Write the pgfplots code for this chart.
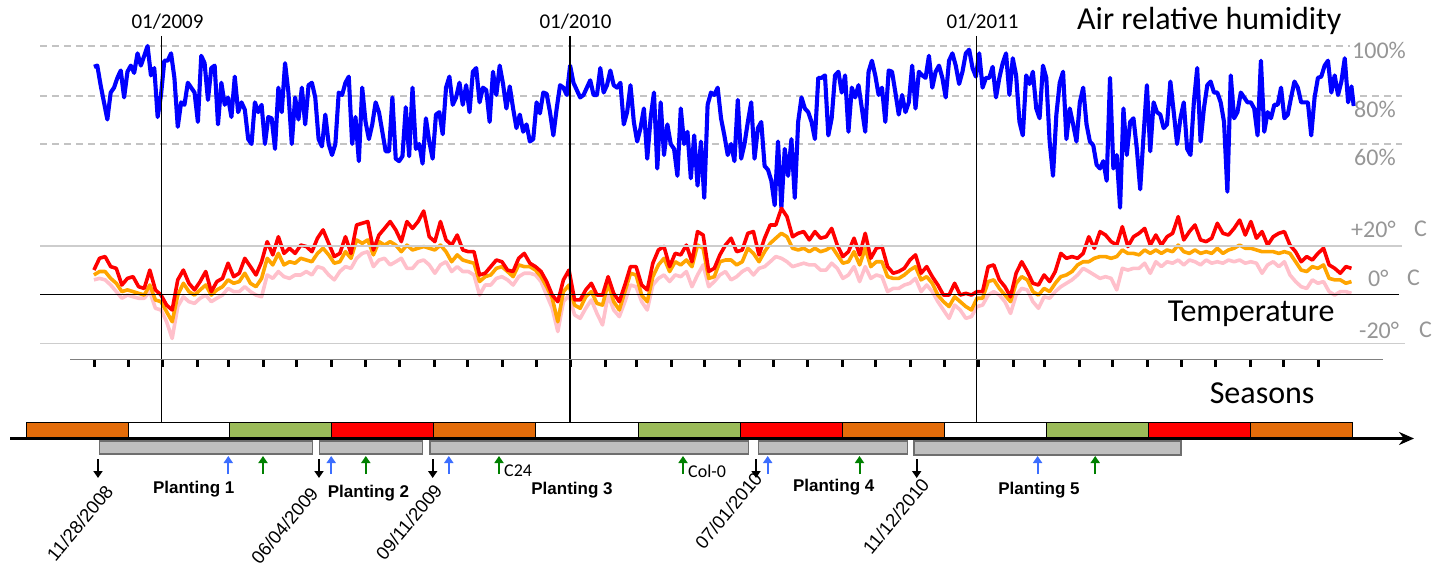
\documentclass[border=0pt]{standalone}
\usepackage{pgfplots}
\pgfplotsset{compat=1.18}
\usepackage{pgfplotstable}
\usepackage{fontspec}
\setmainfont{Carlito}
\newfontfamily\arial{Liberation Sans}
\usetikzlibrary{arrows.meta}
\newcommand\fs[1]{\fontsize{#1}{#1}\selectfont}

\definecolor{hum}{RGB}{0,0,255}
\definecolor{tmax}{RGB}{255,0,0}
\definecolor{tmean}{RGB}{255,165,0}
\definecolor{tmin}{RGB}{255,192,203}
\definecolor{sorange}{RGB}{227,108,10}
\definecolor{sgreen}{RGB}{155,187,89}
\definecolor{sred}{RGB}{255,0,0}
\definecolor{pgray}{RGB}{191,191,191}
\definecolor{pborder}{RGB}{110,110,110}
\definecolor{lblgray}{RGB}{150,150,150}
\definecolor{dashgray}{RGB}{195,195,195}
\definecolor{gridgray}{RGB}{205,205,205}
\definecolor{arrblue}{RGB}{60,110,255}
\definecolor{arrgreen}{RGB}{0,128,0}

% day = days since 01/01/2009, rh = air relative humidity (%)
\pgfplotstableread[row sep=\\]{
day rh\\
-60 91.5\\-57 92\\-54 84\\-51 77\\-48 70\\-45 81\\-42 83\\-39 87\\-36 90\\-33 79\\
-30 89.5\\-27 92\\-24 89\\-21 97\\-18 92\\-15 96\\-12 100\\-9 88\\-6 91\\-3 71\\
0 80\\3 94\\6 94\\9 97\\12 87\\15 67\\18 77\\21 76\\24 85\\27 83\\
30 81\\33 69\\36 96\\39 93\\42 78\\45 91\\48 92\\51 68\\54 85\\57 76\\
60 79\\63 71\\66 87.5\\69 73\\72 77\\75 74\\78 62\\81 60\\84 77\\87 73\\
90 76\\93 60\\96 71\\99 70.5\\102 58\\105 83\\108 73\\111 93\\114 81\\117 60\\
120 79\\123 70\\126 83\\129 68\\132 84\\135 85\\138 79\\141 62\\144 59\\147 72\\
150 60\\153 55.5\\156 60\\159 81\\162 80\\165 85\\168 87.5\\171 60\\174 71\\177 53\\
180 83\\183 69\\186 62\\189 68\\192 77\\195 73\\198 65\\201 57\\204 57\\207 79\\
210 54\\213 53\\216 55\\219 75\\222 55\\225 83\\
228 58\\231 60\\234 52\\237 70.5\\240 61\\243 54\\246 72\\249 73\\252 64\\255 83\\
258 87.5\\261 76\\264 79\\267 85\\270 76\\273 84\\276 73\\279 89.5\\282 91\\285 77\\
288 83\\291 82\\294 69\\297 89.5\\300 80\\303 92\\306 84.5\\309 74.5\\312 83.5\\315 74.5\\
318 66.5\\321 72\\324 65\\327 68\\330 61\\333 62\\336 77\\339 72.5\\342 81\\345 80.5\\
348 73\\351 63.5\\354 74.5\\357 84\\360 83\\363 80\\366 92\\369 85\\372 82\\375 79\\
378 80\\381 83\\384 86\\387 80\\390 80\\393 91\\396 81\\399 84\\402 90\\405 84\\
408 83\\411 85\\414 68\\417 73\\420 84\\423 69\\426 61\\429 66.5\\432 74.5\\435 54\\
438 70.5\\441 81\\444 50\\447 77\\450 55.5\\453 68\\456 60\\459 58\\462 47\\465 74.5\\
468 60\\471 65\\474 46\\477 63.5\\480 43\\483 61\\486 38\\489 76\\492 81\\495 80\\
498 83\\501 70.5\\504 63.5\\507 55.5\\510 60\\
513 53\\516 78\\519 54\\522 60\\525 69\\528 77\\531 54\\534 66.5\\537 69\\540 51\\
543 49.5\\546 45\\549 35\\552 61\\555 34\\558 58\\561 47\\564 62\\567 38\\570 69\\
573 79\\576 74.5\\579 73\\582 69\\585 62\\588 87\\591 87\\594 88\\597 63.5\\600 70.5\\
603 88\\606 89.5\\609 81\\612 88\\615 65\\618 83\\621 79\\624 84\\627 74.5\\630 65\\
633 89.5\\636 94\\639 88\\642 80\\645 83\\648 69\\651 90\\654 89.5\\657 81\\660 72\\
663 80\\666 73\\669 77\\672 92\\675 74.5\\678 89.5\\681 88\\684 87\\687 96\\690 83\\
693 89.5\\696 92\\699 87\\702 79\\705 94\\708 97\\711 92\\714 84.5\\717 89.5\\720 97\\
723 98.5\\726 91\\729 87.5\\732 97\\735 83\\738 87\\741 87\\744 91.5\\747 79\\750 87\\
753 93\\756 97\\759 80\\762 95\\765 88\\768 69\\771 63.5\\774 88\\777 84.5\\780 89.5\\
783 74.5\\786 70.5\\789 92\\792 87\\795 61\\
798 47\\801 72\\804 85\\807 89.5\\810 62\\813 74.5\\816 68\\819 61\\822 77\\825 83\\
828 68\\831 61\\834 59.5\\837 51.5\\840 50\\843 53\\846 45\\849 87\\852 50\\855 55.5\\
858 34\\861 74.5\\864 55.5\\867 69\\870 70.5\\873 58\\876 41.5\\879 63.5\\882 84\\885 57\\
888 77\\891 73\\894 72\\897 66.5\\900 68\\903 85.5\\906 73\\909 60\\912 70.5\\915 77\\
918 58\\921 55.5\\924 77\\927 91\\930 61\\933 74.5\\936 84\\939 85.5\\942 81\\945 81\\
948 77\\951 69\\954 40.5\\957 88\\960 70.5\\963 73\\966 81\\969 79\\972 77\\975 77\\
978 74.5\\981 63.5\\984 94\\987 65\\990 73\\993 70.5\\996 76\\999 76\\1002 83\\1005 70.5\\
1008 72\\1011 79\\1014 85.5\\1017 83\\1020 77\\1023 77\\1026 77\\1029 63.5\\1032 79\\1035 87\\
1038 87.5\\1041 92\\1044 94\\1047 81\\1050 88\\1053 80\\1056 85.5\\1059 95\\1062 77\\1065 83.5\\
1067 75.5\\
}\humidity

% daily max, mean and min air temperature (degrees C)
\pgfplotstableread[row sep=\\]{
day tmax tmean tmin\\
-60 9.9 7.9 5.9\\-55 14.7 9.3 6.5\\-50 15.4 9.3 5.9\\-45 11.3 6.5 3.8\\-40 10.6 4.5 1.1\\
-35 3.8 1.1 -1.6\\-30 6.5 1.8 -0.3\\-25 7.2 1.1 -1.0\\-20 3.1 0.4 -1.6\\-15 2.4 -0.3 -1.6\\
-10 9.9 3.8 1.1\\-5 1.8 -2.3 -5.7\\0 -0.3 -3.0 -6.4\\5 -4.4 -7.1 -11.2\\10 -6.4 -11.2 -18.0\\
15 5.9 -0.3 -5.0\\20 9.9 4.5 -1.0\\25 4.5 1.1 -3.0\\30 1.8 -0.3 -3.7\\35 5.2 1.8 -1.6\\
40 9.3 3.8 -0.3\\45 1.1 -0.3 -3.0\\50 5.2 1.8 -1.6\\55 6.5 3.1 -0.3\\60 12.7 5.9 2.4\\
65 7.2 4.5 1.1\\70 8.6 5.2 1.1\\75 14.7 8.6 3.1\\80 11.3 4.5 1.1\\85 7.9 3.1 -0.3\\
90 13.3 6.5 -1.0\\95 21.5 14.7 7.9\\100 16.1 12.0 6.5\\105 23.5 16.7 9.3\\110 16.7 12.0 7.2\\
115 18.8 13.3 6.5\\120 16.7 12.7 7.9\\125 20.1 14.7 7.9\\130 19.5 14.0 9.3\\135 17.4 13.3 7.9\\
140 22.9 16.7 11.3\\145 26.3 18.8 10.6\\150 20.8 16.1 7.9\\155 15.4 12.7 5.9\\160 16.7 13.3 9.3\\
165 23.5 17.4 11.3\\170 16.7 14.7 10.6\\175 28.3 22.2 14.7\\180 29.0 20.8 16.7\\185 29.7 22.2 17.4\\
190 18.1 16.1 11.3\\195 24.2 21.5 14.0\\200 26.9 20.1 14.7\\205 29.7 21.5 12.0\\210 26.3 20.1 13.3\\
215 21.5 17.4 14.7\\220 29.7 20.1 10.6\\
225 26.9 18.1 10.6\\230 29.7 18.8 13.3\\235 34.0 19.5 14.0\\240 23.5 18.8 12.0\\245 21.5 18.1 8.6\\
250 29.7 20.1 12.0\\255 22.2 17.4 13.3\\260 20.1 13.3 9.3\\265 24.2 16.1 11.3\\270 18.1 14.0 9.3\\
275 17.4 13.3 9.3\\280 17.4 12.7 7.9\\285 7.9 5.2 -0.3\\290 8.6 7.2 3.8\\295 11.3 7.9 3.8\\
300 14.0 10.6 6.5\\305 13.3 11.3 7.2\\310 9.9 9.3 5.9\\315 9.3 7.2 3.8\\320 14.7 12.0 7.2\\
325 16.7 11.3 8.6\\330 12.7 11.3 8.6\\335 11.3 9.9 7.9\\340 9.3 7.2 5.2\\345 5.2 3.1 -0.3\\
350 -0.3 -1.6 -5.7\\355 -3.0 -11.2 -15.2\\360 5.9 1.1 -3.0\\365 9.9 3.8 -0.3\\370 -2.3 -4.4 -8.4\\
375 -2.3 -5.7 -9.8\\380 1.8 -1.0 -5.7\\385 4.5 1.1 -2.3\\390 -0.3 -3.7 -7.8\\395 -0.3 -4.4 -12.5\\
400 7.2 4.5 -0.3\\405 0.4 -3.0 -6.4\\410 -3.0 -6.4 -9.1\\415 3.8 1.1 -3.0\\420 11.3 8.6 3.8\\
425 11.3 7.9 3.1\\430 3.8 -0.3 -3.0\\435 1.8 -3.0 -6.4\\440 12.7 7.2 3.8\\445 18.1 12.0 6.5\\
450 19.5 14.7 7.9\\455 11.3 9.3 5.2\\460 16.7 13.3 7.9\\465 16.1 12.0 7.2\\470 20.1 14.0 9.3\\
475 13.3 11.3 3.1\\480 25.6 20.1 7.9\\485 24.2 18.8 12.0\\490 9.3 6.5 3.1\\495 10.6 7.2 5.2\\
500 16.1 13.3 7.9\\505 20.1 14.0 9.3\\
510 22.9 14.0 5.9\\515 17.4 12.0 7.2\\520 18.1 13.3 9.3\\525 24.9 18.8 10.6\\530 25.6 16.7 7.9\\
535 16.1 13.3 10.6\\540 22.9 17.4 11.3\\545 28.3 20.8 13.3\\550 28.3 22.9 15.4\\555 35.1 24.9 14.7\\
560 31.7 23.5 13.3\\565 23.5 18.8 11.3\\570 24.9 18.1 12.0\\575 25.6 18.8 12.7\\580 22.2 17.4 12.0\\
585 25.6 18.8 12.0\\590 22.9 17.4 9.9\\595 23.5 18.1 9.9\\600 26.9 19.5 12.7\\605 20.1 16.1 10.6\\
610 15.4 12.7 6.5\\615 17.4 13.3 7.9\\620 22.9 17.4 11.3\\625 16.1 12.0 5.2\\630 24.9 18.8 11.3\\
635 14.7 11.3 6.5\\640 18.8 13.3 7.9\\645 19.5 13.3 7.2\\650 11.3 7.2 1.1\\655 8.6 6.5 2.4\\
660 9.3 6.5 2.4\\665 10.6 7.9 3.8\\670 14.0 9.9 4.5\\675 16.1 11.3 6.5\\680 8.6 5.9 1.1\\
685 11.3 7.2 3.8\\690 7.2 4.5 1.1\\695 3.8 -0.3 -3.0\\700 -0.3 -3.0 -6.4\\705 -0.3 -5.0 -9.8\\
710 4.5 -1.0 -4.4\\715 -0.3 -3.0 -6.4\\720 0.4 -5.0 -9.8\\725 -0.3 -6.4 -9.1\\730 1.1 -1.6 -5.0\\
735 1.1 -1.6 -4.4\\740 11.3 5.2 -0.3\\745 12.0 5.9 1.1\\750 5.9 2.4 -0.3\\755 3.1 -0.3 -3.0\\
760 -1.0 -3.0 -7.8\\765 8.6 4.5 -0.3\\770 13.3 7.2 2.4\\775 9.3 5.9 1.8\\780 4.5 1.1 -3.0\\
785 3.8 -0.3 -5.7\\790 7.9 2.4 -1.0\\795 5.2 1.1 -1.6\\
800 9.3 4.5 1.1\\805 16.7 7.2 3.1\\810 14.7 7.9 4.5\\815 15.4 9.3 5.9\\820 14.7 12.0 7.9\\
825 16.7 13.3 10.6\\830 23.5 13.3 9.3\\835 18.8 14.7 7.9\\840 25.6 15.4 6.5\\845 24.2 15.4 7.2\\
850 21.5 14.7 6.5\\855 20.1 15.4 1.8\\860 27.6 18.1 10.6\\865 19.5 16.7 9.9\\870 23.5 16.7 10.6\\
875 24.9 16.1 10.6\\880 26.9 18.1 12.7\\885 20.1 16.7 8.6\\890 24.2 18.1 13.3\\895 20.1 16.7 11.3\\
900 23.5 18.1 13.3\\905 24.9 17.4 12.7\\910 31.7 20.1 14.0\\915 22.2 17.4 12.0\\920 25.6 16.7 14.0\\
925 28.3 18.1 13.3\\930 22.2 16.7 12.0\\935 21.5 17.4 14.0\\940 22.9 16.7 12.7\\945 29.0 18.8 13.3\\
950 24.9 16.7 12.7\\955 24.2 18.1 14.0\\960 26.9 18.8 13.3\\965 30.3 20.1 14.0\\970 24.2 18.8 12.7\\
975 29.7 18.8 13.3\\980 22.9 18.1 12.7\\985 25.6 17.4 8.6\\990 20.1 17.4 12.0\\995 23.5 17.4 13.3\\
1000 24.9 16.7 11.3\\1005 25.6 17.4 13.3\\1010 20.1 16.7 7.9\\1015 17.4 13.3 5.2\\1020 13.3 9.9 3.1\\
1025 15.4 9.3 2.4\\1030 14.0 11.3 5.9\\1035 16.7 10.6 4.5\\1040 18.8 12.0 5.2\\1045 12.0 6.5 1.1\\
1050 10.6 5.9 -0.3\\1055 8.6 5.9 1.1\\1060 11.3 4.5 1.1\\1065 10.6 5.2 0.4\\
}\temps

\pgfplotsset{
  base/.style={scale only axis, width=1446pt, height=569pt, hide axis, clip=false,
    at={(0pt,0pt)}, anchor=south west},
  pix/.style={base, xmin=0, xmax=1446, ymin=0, ymax=569, y dir=reverse},
  days/.style={base, xmin=-144.03, xmax=1149.57},
}

\begin{document}
\begin{tikzpicture}
% ---------- background: humidity grid ----------
\begin{axis}[pix]
\draw[dashgray, line width=1.3pt, dash pattern=on 7pt off 5pt] (axis cs:40,46) -- (axis cs:1350,46);
\draw[dashgray, line width=1.3pt, dash pattern=on 7pt off 5pt] (axis cs:40,96) -- (axis cs:1402,96);
\draw[dashgray, line width=1.3pt, dash pattern=on 7pt off 5pt] (axis cs:40,144) -- (axis cs:1402,144);
\end{axis}
% ---------- humidity ----------
\begin{axis}[days, ymin=-113.47, ymax=118.78]
\addplot[hum, line width=4.1pt, line join=round, mark=none] table[x=day, y=rh]{\humidity};
\end{axis}
% ---------- temperatures ----------
\begin{axis}[days, ymin=-112.11, ymax=120.13]
\addplot[tmin, line width=3.6pt, line join=round, mark=none] table[x=day, y=tmin]{\temps};
\addplot[tmean, line width=3.6pt, line join=round, mark=none] table[x=day, y=tmean]{\temps};
\addplot[tmax, line width=3.6pt, line join=round, mark=none] table[x=day, y=tmax]{\temps};
\end{axis}
% ---------- foreground ----------
\begin{axis}[pix]
% temperature grid
\draw[gridgray, line width=1.8pt] (axis cs:40,246) -- (axis cs:1402,246);
\draw[black, line width=1.3pt] (axis cs:40,294.3) -- (axis cs:1399,294.3);
\draw[gridgray, line width=1.8pt] (axis cs:40,343.5) -- (axis cs:1405,343.5);
% year lines
\pgfplotsinvokeforeach{161.7,570,976.7}{\draw[black, line width=1.4pt] (axis cs:#1,36) -- (axis cs:#1,422);}
\node[font=\fs{21}] at (axis cs:167.5,22) {01/2009};
\node[font=\fs{21}] at (axis cs:575.5,22) {01/2010};
\node[font=\fs{21}] at (axis cs:982.5,22) {01/2011};
% titles
\node[anchor=base east, font=\fs{32}] at (axis cs:1345,30) {Air relative humidity};
\node[anchor=base east, font=\fs{32}] at (axis cs:1338,322) {Temperature};
\node[anchor=base east, font=\fs{32}] at (axis cs:1318,403) {Seasons};
% right labels
\node[anchor=west, inner sep=0pt, text=lblgray, font=\fs{24}] at (axis cs:1352,50) {100\%};
\node[anchor=west, inner sep=0pt, text=lblgray, font=\fs{24}] at (axis cs:1354,109) {80\%};
\node[anchor=west, inner sep=0pt, text=lblgray, font=\fs{24}] at (axis cs:1354,157) {60\%};
\node[anchor=west, inner sep=0pt, text=lblgray, font=\fs{24}] at (axis cs:1351,229) {+20°};
\node[anchor=west, inner sep=0pt, text=lblgray, font=\fs{24}] at (axis cs:1414,229) {C};
\node[anchor=west, inner sep=0pt, text=lblgray, font=\fs{24}] at (axis cs:1368,278) {0°};
\node[anchor=west, inner sep=0pt, text=lblgray, font=\fs{24}] at (axis cs:1407,278) {C};
\node[anchor=west, inner sep=0pt, text=lblgray, font=\fs{24}] at (axis cs:1359,330) {-20°};
\node[anchor=west, inner sep=0pt, text=lblgray, font=\fs{24}] at (axis cs:1419,330) {C};
% month ticks
\draw[gray, line width=1pt] (axis cs:70,359.5) -- (axis cs:1383,359.5);
\pgfplotsinvokeforeach{94.5,128,162.7,197.4,228.7,263.3,296.8,331.5,365,399.7,434.3,467.9,502.5,536,570.7,605.3,636.7,671.3,704.8,739.5,773,807.7,842.3,875.9,910.5,944,978.7,1013.3,1044.7,1079.3,1112.8,1147.5,1181,1215.7,1250.3,1283.9,1318.5}{\draw[black, line width=3pt] (axis cs:#1,360) -- (axis cs:#1,367);}
% seasons
\filldraw[fill=sorange, draw=black, line width=1pt] (axis cs:26,422) rectangle (axis cs:128,437);
\filldraw[fill=white,   draw=black, line width=1pt] (axis cs:128,422) rectangle (axis cs:229,437);
\filldraw[fill=sgreen,  draw=black, line width=1pt] (axis cs:229,422) rectangle (axis cs:331,437);
\filldraw[fill=sred,    draw=black, line width=1pt] (axis cs:331,422) rectangle (axis cs:433,437);
\filldraw[fill=sorange, draw=black, line width=1pt] (axis cs:433,422) rectangle (axis cs:535,437);
\filldraw[fill=white,   draw=black, line width=1pt] (axis cs:535,422) rectangle (axis cs:638,437);
\filldraw[fill=sgreen,  draw=black, line width=1pt] (axis cs:638,422) rectangle (axis cs:740,437);
\filldraw[fill=sred,    draw=black, line width=1pt] (axis cs:740,422) rectangle (axis cs:842,437);
\filldraw[fill=sorange, draw=black, line width=1pt] (axis cs:842,422) rectangle (axis cs:944,437);
\filldraw[fill=white,   draw=black, line width=1pt] (axis cs:944,422) rectangle (axis cs:1046,437);
\filldraw[fill=sgreen,  draw=black, line width=1pt] (axis cs:1046,422) rectangle (axis cs:1148,437);
\filldraw[fill=sred,    draw=black, line width=1pt] (axis cs:1148,422) rectangle (axis cs:1250,437);
\filldraw[fill=sorange, draw=black, line width=1pt] (axis cs:1250,422) rectangle (axis cs:1352,437);
% time arrow
\draw[black, line width=3pt, -{Stealth[length=15pt, width=13pt]}] (axis cs:10,438.5) -- (axis cs:1414,438.5);
% plantings
\filldraw[fill=pgray, draw=pborder, line width=1.2pt] (axis cs:99.5,441) rectangle (axis cs:312.7,454);
\filldraw[fill=pgray, draw=pborder, line width=1.2pt] (axis cs:319.6,441) rectangle (axis cs:422.5,454);
\filldraw[fill=pgray, draw=pborder, line width=1.2pt] (axis cs:430,441) rectangle (axis cs:748.4,454);
\filldraw[fill=pgray, draw=pborder, line width=1.2pt] (axis cs:758.5,441) rectangle (axis cs:907.5,454);
\filldraw[fill=pgray, draw=pborder, line width=1.2pt] (axis cs:914,441) rectangle (axis cs:1181,455);
% arrows
\pgfplotsinvokeforeach{98,319,432.7,756,916.7}{\draw[black, line width=1.8pt, -{Triangle[length=7pt, width=9pt]}] (axis cs:#1,459) -- (axis cs:#1,478);}
\pgfplotsinvokeforeach{228.3,331.2,448.8,767.7,1037.6}{\draw[arrblue, line width=2pt, -{Triangle[length=7pt, width=9pt]}] (axis cs:#1,474) -- (axis cs:#1,456);}
\pgfplotsinvokeforeach{263,365.8,499,683,859.5,1095.2}{\draw[arrgreen, line width=2pt, -{Triangle[length=7pt, width=9pt]}] (axis cs:#1,474) -- (axis cs:#1,456);}
\node[anchor=west, inner sep=1pt, font=\fs{18}] at (axis cs:503,471) {C24};
\node[anchor=west, inner sep=1pt, font=\fs{18}] at (axis cs:687,471) {Col-0};
% planting names
\node[font=\arial\bfseries\fs{17}] at (axis cs:193.7,489) {Planting 1};
\node[font=\arial\bfseries\fs{17}] at (axis cs:368.5,493) {Planting 2};
\node[font=\arial\bfseries\fs{17}] at (axis cs:572,490) {Planting 3};
\node[font=\arial\bfseries\fs{17}] at (axis cs:833.7,487) {Planting 4};
\node[font=\arial\bfseries\fs{17}] at (axis cs:1039,490) {Planting 5};
% dates
\node[rotate=50, anchor=east, inner sep=1pt, font=\arial\fs{18.5}] at (axis cs:110,487) {11/28/2008};
\node[rotate=50, anchor=east, inner sep=1pt, font=\arial\fs{18.5}] at (axis cs:315,489) {06/04/2009};
\node[rotate=50, anchor=east, inner sep=1pt, font=\arial\fs{18.5}] at (axis cs:439,486) {09/11/2009};
\node[rotate=50, anchor=east, inner sep=1pt, font=\arial\fs{18.5}] at (axis cs:759,474) {07/01/2010};
\node[rotate=50, anchor=east, inner sep=1pt, font=\arial\fs{18.5}] at (axis cs:926,480) {11/12/2010};
\end{axis}
\pgfresetboundingbox
\useasboundingbox (0pt,0pt) rectangle (1446pt,569pt);
\end{tikzpicture}
\end{document}
